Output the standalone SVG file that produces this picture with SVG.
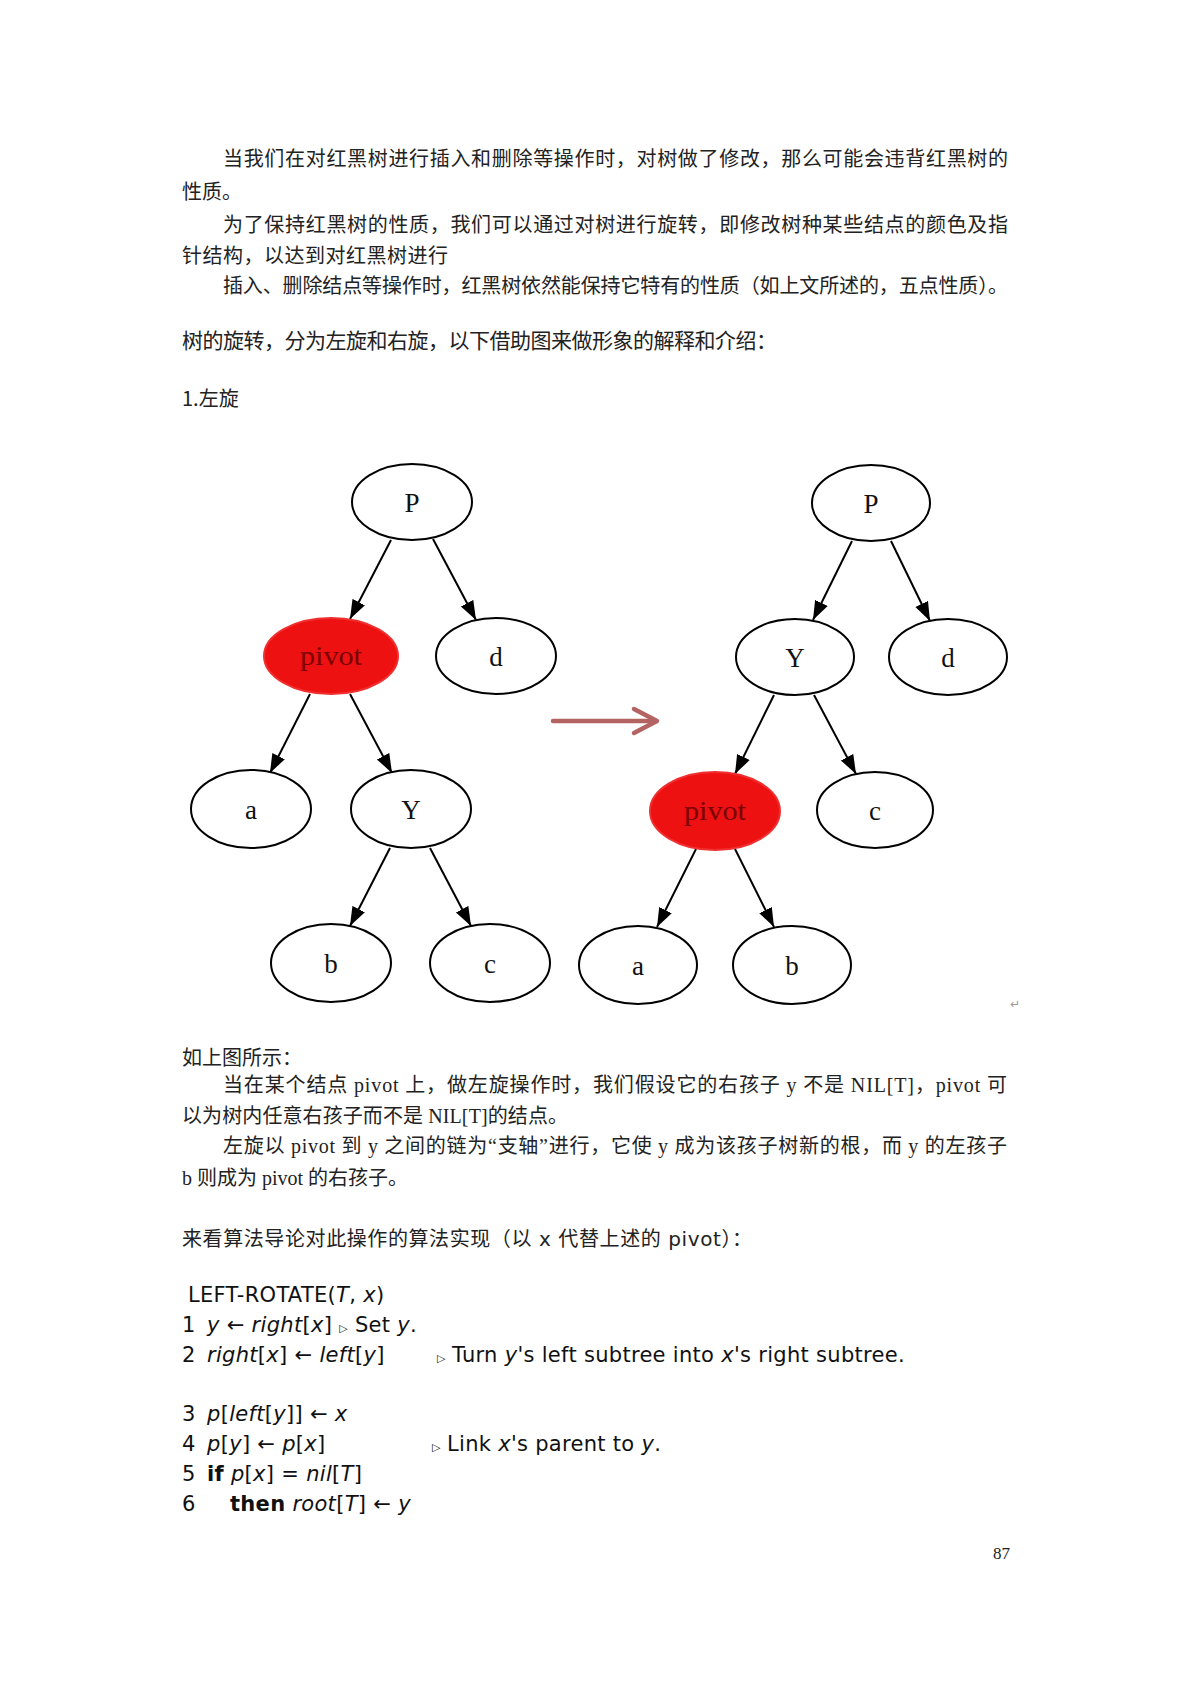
<svg xmlns="http://www.w3.org/2000/svg" width="1190" height="1683" viewBox="0 0 1190 1683">
<style>
.cn{font-family:"Noto Sans CJK SC",sans-serif;font-size:20px;fill:#222}
.mix{font-family:"Liberation Serif","Noto Sans CJK SC",serif;font-size:20px;fill:#222}
.vs{font-family:"DejaVu Sans",sans-serif}
.code{font-family:"DejaVu Sans",sans-serif;font-size:21px;letter-spacing:0.3px;fill:#111}
.code .i{font-style:italic}
.code .b{font-weight:bold}
.tri{font-size:11px}
.node{fill:#fff;stroke:#000;stroke-width:2}
.red{fill:#ee1111;stroke:#f03030;stroke-width:2}
.lbl{font-family:"Liberation Serif",serif;font-size:27px;fill:#111;text-anchor:middle}
.plbl{font-family:"Liberation Serif",serif;font-size:28px;fill:#7a0000;text-anchor:middle}
.edge{stroke:#000;stroke-width:2;fill:none}
</style>
<defs>
<marker id="ah" markerUnits="userSpaceOnUse" markerWidth="20" markerHeight="16" viewBox="0 0 20 16" refX="19" refY="8" orient="auto">
<path d="M0,1 L19,8 L0,15 z" fill="#000"/>
</marker>
</defs>
<rect width="1190" height="1683" fill="#fff"/>

<g id="text-top">
<text class="cn" x="223" y="166" textLength="785" lengthAdjust="spacing">当我们在对红黑树进行插入和删除等操作时，对树做了修改，那么可能会违背红黑树的</text>
<text class="cn" x="182" y="199">性质。</text>
<text class="cn" x="223" y="232" textLength="785" lengthAdjust="spacing">为了保持红黑树的性质，我们可以通过对树进行旋转，即修改树种某些结点的颜色及指</text>
<text class="cn" x="182" y="263" textLength="266" lengthAdjust="spacing">针结构，以达到对红黑树进行</text>
<text class="cn" x="223" y="293" textLength="785" lengthAdjust="spacing">插入、删除结点等操作时，红黑树依然能保持它特有的性质（如上文所述的，五点性质）。</text>
<text class="cn" x="182" y="348" style="font-size:21px" textLength="595" lengthAdjust="spacing">树的旋转，分为左旋和右旋，以下借助图来做形象的解释和介绍：</text>
<text class="cn" x="182" y="406">1.左旋</text>
</g>

<g id="connectors">
<line class="edge" x1="391" y1="540" x2="350" y2="619" marker-end="url(#ah)"/>
<line class="edge" x1="433" y1="539" x2="476" y2="620" marker-end="url(#ah)"/>
<line class="edge" x1="310" y1="694" x2="270" y2="773" marker-end="url(#ah)"/>
<line class="edge" x1="350" y1="694" x2="392" y2="773" marker-end="url(#ah)"/>
<line class="edge" x1="390" y1="848" x2="350" y2="926" marker-end="url(#ah)"/>
<line class="edge" x1="430" y1="848" x2="471" y2="926" marker-end="url(#ah)"/>
<line class="edge" x1="852" y1="541" x2="813" y2="620" marker-end="url(#ah)"/>
<line class="edge" x1="891" y1="541" x2="930" y2="621" marker-end="url(#ah)"/>
<line class="edge" x1="774" y1="695" x2="735" y2="774" marker-end="url(#ah)"/>
<line class="edge" x1="814" y1="695" x2="856" y2="774" marker-end="url(#ah)"/>
<line class="edge" x1="696" y1="849" x2="657" y2="927" marker-end="url(#ah)"/>
<line class="edge" x1="735" y1="849" x2="774" y2="927" marker-end="url(#ah)"/>
<g id="rotate-arrow" stroke="#b36462" stroke-width="4.5" fill="none" stroke-linecap="round" stroke-linejoin="round">
<line x1="553" y1="721" x2="656" y2="721"/>
<polyline points="634,709 657,721 634,733"/>
</g>
</g>

<g id="L-P"><ellipse class="node" cx="412" cy="502" rx="60" ry="38"/><text class="lbl" x="412" y="512">P</text></g>
<g id="L-pivot"><ellipse class="red" cx="331" cy="656" rx="67" ry="38"/><text class="plbl" x="331" y="665" textLength="62" lengthAdjust="spacingAndGlyphs">pivot</text></g>
<g id="L-d"><ellipse class="node" cx="496" cy="656" rx="60" ry="38"/><text class="lbl" x="496" y="666">d</text></g>
<g id="L-a"><ellipse class="node" cx="251" cy="809" rx="60" ry="39"/><text class="lbl" x="251" y="819">a</text></g>
<g id="L-Y"><ellipse class="node" cx="411" cy="809" rx="60" ry="39"/><text class="lbl" x="411" y="819">Y</text></g>
<g id="L-b"><ellipse class="node" cx="331" cy="963" rx="60" ry="39"/><text class="lbl" x="331" y="973">b</text></g>
<g id="L-c"><ellipse class="node" cx="490" cy="963" rx="60" ry="39"/><text class="lbl" x="490" y="973">c</text></g>

<g id="R-P"><ellipse class="node" cx="871" cy="503" rx="59" ry="38"/><text class="lbl" x="871" y="513">P</text></g>
<g id="R-Y"><ellipse class="node" cx="795" cy="657" rx="59" ry="38"/><text class="lbl" x="795" y="667">Y</text></g>
<g id="R-d"><ellipse class="node" cx="948" cy="657" rx="59" ry="38"/><text class="lbl" x="948" y="667">d</text></g>
<g id="R-pivot"><ellipse class="red" cx="715" cy="811" rx="65" ry="39"/><text class="plbl" x="715" y="820" textLength="62" lengthAdjust="spacingAndGlyphs">pivot</text></g>
<g id="R-c"><ellipse class="node" cx="875" cy="810" rx="58" ry="38"/><text class="lbl" x="875" y="820">c</text></g>
<g id="R-a"><ellipse class="node" cx="638" cy="965" rx="59" ry="39"/><text class="lbl" x="638" y="975">a</text></g>
<g id="R-b"><ellipse class="node" cx="792" cy="965" rx="59" ry="39"/><text class="lbl" x="792" y="975">b</text></g>

<text x="1010" y="1008" style="font-family:'DejaVu Sans',sans-serif;font-size:12px;fill:#999">↵</text>

<g id="text-bottom">
<text class="mix" x="182" y="1065">如上图所示：</text>
<text class="mix" x="223" y="1092" textLength="784" lengthAdjust="spacing">当在某个结点 pivot 上，做左旋操作时，我们假设它的右孩子 y 不是 NIL[T]，pivot 可</text>
<text class="mix" x="182" y="1123" textLength="386" lengthAdjust="spacing">以为树内任意右孩子而不是 NIL[T]的结点。</text>
<text class="mix" x="223" y="1153" textLength="784" lengthAdjust="spacing">左旋以 pivot 到 y 之间的链为“支轴”进行，它使 y 成为该孩子树新的根，而 y 的左孩子</text>
<text class="mix" x="182" y="1185" textLength="226" lengthAdjust="spacing">b 则成为 pivot 的右孩子。</text>
<text class="cn" x="182" y="1246" textLength="570" lengthAdjust="spacing">来看算法导论对此操作的算法实现（以<tspan class="vs"> x </tspan>代替上述的<tspan class="vs"> pivot</tspan>）：</text>
</g>

<g id="code" class="code">
<text x="188" y="1302">LEFT-ROTATE(<tspan class="i">T</tspan>, <tspan class="i">x</tspan>)</text>
<text x="182" y="1332">1<tspan x="207" class="i">y</tspan> ← <tspan class="i">right</tspan>[<tspan class="i">x</tspan>] <tspan class="tri">▷</tspan> Set <tspan class="i">y</tspan>.</text>
<text x="182" y="1362">2<tspan x="207" class="i">right</tspan>[<tspan class="i">x</tspan>] ← <tspan class="i">left</tspan>[<tspan class="i">y</tspan>]<tspan x="437" class="tri">▷</tspan><tspan x="452">Turn </tspan><tspan class="i">y</tspan>'s left subtree into <tspan class="i">x</tspan>'s right subtree.</text>
<text x="182" y="1421">3<tspan x="207" class="i">p</tspan>[<tspan class="i">left</tspan>[<tspan class="i">y</tspan>]] ← <tspan class="i">x</tspan></text>
<text x="182" y="1451">4<tspan x="207" class="i">p</tspan>[<tspan class="i">y</tspan>] ← <tspan class="i">p</tspan>[<tspan class="i">x</tspan>]<tspan x="432" class="tri">▷</tspan><tspan x="447">Link </tspan><tspan class="i">x</tspan>'s parent to <tspan class="i">y</tspan>.</text>
<text x="182" y="1481">5<tspan x="207" class="b">if</tspan> <tspan class="i">p</tspan>[<tspan class="i">x</tspan>] = <tspan class="i">nil</tspan>[<tspan class="i">T</tspan>]</text>
<text x="182" y="1511">6<tspan x="230" class="b">then</tspan> <tspan class="i">root</tspan>[<tspan class="i">T</tspan>] ← <tspan class="i">y</tspan></text>
</g>

<text x="1010" y="1559" text-anchor="end" style="font-family:'Liberation Serif',serif;font-size:17px;fill:#222">87</text>
</svg>
